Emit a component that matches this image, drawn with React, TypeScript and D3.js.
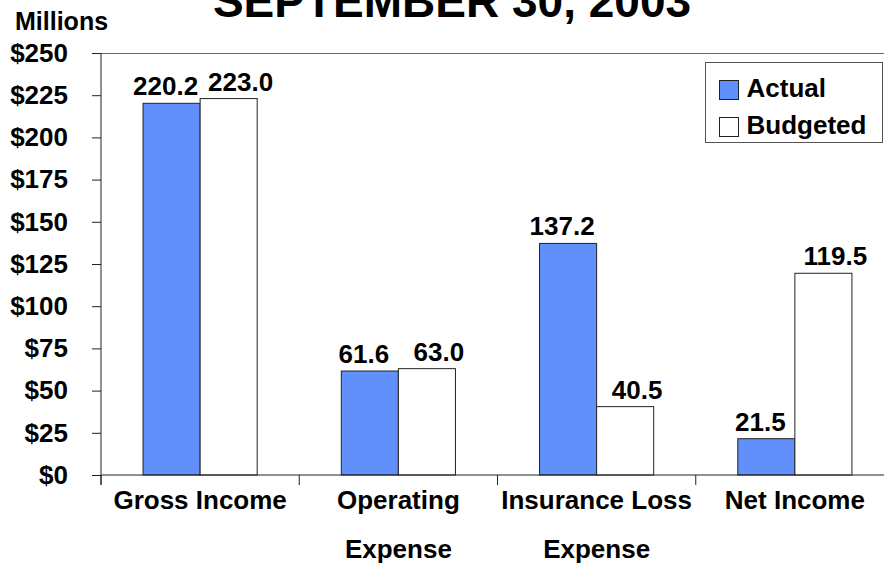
import { useMemo, useRef, useEffect } from "react";
import * as d3 from "d3";
import React from "react";

const W = 884;
const H = 566;
const MARGIN = { top: 53, right: -10, bottom: 91, left: 101 };

const categories = ["Gross Income", "Operating Expense", "Insurance Loss Expense", "Net Income"];
const categoryLines = [["Gross Income"], ["Operating", "Expense"], ["Insurance Loss", "Expense"], ["Net Income"]];
const seriesNames = ["Actual", "Budgeted"];
const actual = [220.2, 61.6, 137.2, 21.5];
const budgeted = [223.0, 63.0, 40.5, 119.5];
const yTicks = [0, 25, 50, 75, 100, 125, 150, 175, 200, 225, 250];

const COLORS: Record<string, string> = { Actual: "#6190fd", Budgeted: "#ffffff" };
// labels sit a little off-centre so the pair never collides
const LABEL_NUDGE: Record<string, number> = { Actual: -6, Budgeted: 12 };
const FONT = "'Liberation Sans', Arial, sans-serif";

export default function App() {
  const yAxisRef = useRef(null);
  const boundsWidth = W - MARGIN.left - MARGIN.right;
  const boundsHeight = H - MARGIN.top - MARGIN.bottom;

  useEffect(() => {
    document.body.style.margin = "0";
  }, []);

  const x0 = useMemo(
    () => d3.scaleBand().domain(categories).range([0, boundsWidth]).padding(0),
    [boundsWidth]
  );
  const x1 = useMemo(
    () =>
      d3
        .scaleBand()
        .domain(seriesNames)
        .range([0, x0.bandwidth()])
        .paddingInner(0)
        .paddingOuter(0.737),
    [x0]
  );
  const yScale = useMemo(
    () => d3.scaleLinear().domain([0, 250]).range([boundsHeight, 0]),
    [boundsHeight]
  );

  useEffect(() => {
    const g = d3.select(yAxisRef.current);
    g.selectAll("*").remove();
    const axis = d3
      .axisLeft(yScale)
      .tickValues(yTicks)
      .tickSize(9)
      .tickPadding(24)
      .tickFormat((d) => `$${d}`);
    g.call(axis);
    g.select(".domain").remove();
    g.selectAll(".tick line").attr("stroke", "#222");
    g.selectAll(".tick text")
      .attr("font-family", FONT)
      .attr("font-size", 26)
      .attr("font-weight", "bold")
      .attr("fill", "#000");
  }, [yScale]);

  const rows = categories.map((c, i) => ({ c, values: [actual[i], budgeted[i]] }));

  return (
    <svg width={W} height={H} style={{ display: "block", background: "#fff" }}>
      <text
        x={452}
        y={17}
        textAnchor="middle"
        fontFamily={FONT}
        fontWeight="bold"
        fontSize={46}
      >
        SEPTEMBER 30, 2003
      </text>
      <text x={15} y={30} fontFamily={FONT} fontWeight="bold" fontSize={25}>
        Millions
      </text>
      <g transform={`translate(${MARGIN.left},${MARGIN.top})`}>
        <line x1={0} x2={boundsWidth} y1={0.5} y2={0.5} stroke="#666" />
        {rows.map((r) => (
          <g key={r.c} transform={`translate(${x0(r.c)},0)`}>
            {seriesNames.map((s, j) => {
              const v = r.values[j];
              const bx = x1(s)!;
              const by = yScale(v);
              return (
                <g key={s}>
                  <rect
                    x={bx}
                    y={by}
                    width={x1.bandwidth()}
                    height={boundsHeight - by}
                    fill={COLORS[s]}
                    stroke="#222"
                    strokeWidth={1}
                  />
                  <text
                    x={bx + x1.bandwidth() / 2 + LABEL_NUDGE[s]}
                    y={by - 8}
                    textAnchor="middle"
                    fontFamily={FONT}
                    fontWeight="bold"
                    fontSize={26}
                  >
                    {v.toFixed(1)}
                  </text>
                </g>
              );
            })}
          </g>
        ))}
        <line x1={0} x2={0} y1={0} y2={boundsHeight + 10} stroke="#222" />
        <line x1={0} x2={boundsWidth} y1={boundsHeight} y2={boundsHeight} stroke="#222" />
        {categories.map((c) => (
          <line
            key={c}
            x1={x0(c)!}
            x2={x0(c)!}
            y1={boundsHeight}
            y2={boundsHeight + 10}
            stroke="#222"
          />
        ))}
        {categories.map((c, i) => (
          <text
            key={c}
            x={x0(c)! + x0.bandwidth() / 2}
            y={boundsHeight + 34}
            textAnchor="middle"
            fontFamily={FONT}
            fontWeight="bold"
            fontSize={26}
          >
            {categoryLines[i].map((line, k) => (
              <tspan key={k} x={x0(c)! + x0.bandwidth() / 2} dy={k === 0 ? 0 : 49}>
                {line}
              </tspan>
            ))}
          </text>
        ))}
        <g ref={yAxisRef} />
      </g>
      <g transform="translate(705.5,62.5)">
        <rect width={177} height={80} fill="#fff" stroke="#555" />
        {seriesNames.map((s, i) => (
          <g key={s} transform={`translate(14,${18 + i * 37})`}>
            <rect width={19} height={19} fill={COLORS[s]} stroke="#222" />
            <text
              x={27}
              y={16}
              fontFamily={FONT}
              fontWeight="bold"
              fontSize={26}
            >
              {s}
            </text>
          </g>
        ))}
      </g>
    </svg>
  );
}
